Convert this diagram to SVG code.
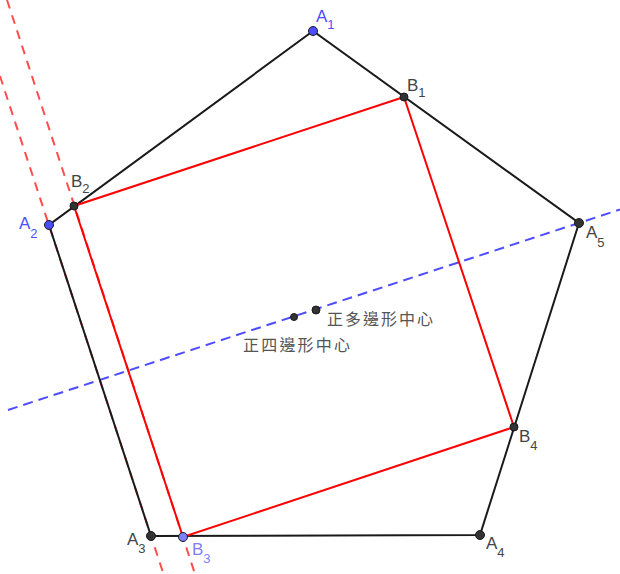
<svg xmlns="http://www.w3.org/2000/svg" width="620" height="574" viewBox="0 0 620 574">
<style>
.edge{stroke:#1a1a1a;stroke-width:2;fill:none}
.sq{stroke:#ff0000;stroke-width:2;fill:none}
.rd{stroke:#ff4d4d;stroke-width:2;stroke-dasharray:9,7;fill:none}
.bd{stroke:#4d4dff;stroke-width:2;stroke-dasharray:10,6;fill:none}
.pt{fill:#333;stroke:#1a1a1a;stroke-width:1}
.ptb{fill:#4d4dff;stroke:#1a1a1a;stroke-width:1}
.ptb2{fill:#8080ff;stroke:#1a1a1a;stroke-width:1}
.lb{font-family:"Liberation Sans",Arial,sans-serif;font-size:17px;fill:#444}
.lbb{font-family:"Liberation Sans",Arial,sans-serif;font-size:17px;fill:#4d4dff}
.lbb2{font-family:"Liberation Sans",Arial,sans-serif;font-size:17px;fill:#7f7fff}
.sub{font-size:13px}
.cn{font-family:"Noto Sans CJK TC","Noto Sans CJK SC",sans-serif;font-size:16px;fill:#555}
</style>
<rect width="620" height="574" fill="#fff"/>
<g id="connectors">
<line class="rd" x1="7" y1="0" x2="195" y2="574"/>
<line class="rd" x1="-25" y1="0" x2="163.5" y2="574"/>
<line class="bd" x1="8" y1="410" x2="620" y2="209.5"/>
<polygon class="edge" points="313,31 49,225 151,536 480,535 579,223"/>
<polygon class="sq" points="404,97 74,206 183,537 514,427"/>
</g>
<g id="A1"><circle class="ptb" cx="313" cy="31" r="4.5"/><text class="lbb" x="316" y="22">A<tspan class="sub" dy="7">1</tspan></text></g>
<g id="B1"><circle class="pt" cx="404" cy="97" r="4"/><text class="lb" x="407" y="91">B<tspan class="sub" dy="6">1</tspan></text></g>
<g id="A5"><circle class="pt" cx="579" cy="223" r="4.5"/><text class="lb" x="586" y="238">A<tspan class="sub" dy="9">5</tspan></text></g>
<g id="B2"><circle class="pt" cx="74" cy="206" r="4"/><text class="lb" x="71" y="187">B<tspan class="sub" dy="6">2</tspan></text></g>
<g id="A2"><circle class="ptb" cx="49" cy="225" r="4.5"/><text class="lbb" x="19" y="229">A<tspan class="sub" dy="9">2</tspan></text></g>
<g id="A3"><circle class="pt" cx="151" cy="536" r="4.5"/><text class="lb" x="127" y="545">A<tspan class="sub" dy="8">3</tspan></text></g>
<g id="B3"><circle class="ptb2" cx="183" cy="537" r="4.5"/><text class="lbb2" x="192" y="555">B<tspan class="sub" dy="8">3</tspan></text></g>
<g id="A4"><circle class="pt" cx="480" cy="535" r="4.5"/><text class="lb" x="486" y="549">A<tspan class="sub" dy="8">4</tspan></text></g>
<g id="B4"><circle class="pt" cx="514" cy="427" r="4"/><text class="lb" x="519" y="442">B<tspan class="sub" dy="8">4</tspan></text></g>
<g id="C5"><circle class="pt" cx="316" cy="310" r="4"/><text class="cn" x="327" y="325" textLength="106">正多邊形中心</text></g>
<g id="C4"><circle class="pt" cx="294" cy="317" r="3.5"/><text class="cn" x="243" y="351" textLength="107">正四邊形中心</text></g>
</svg>
